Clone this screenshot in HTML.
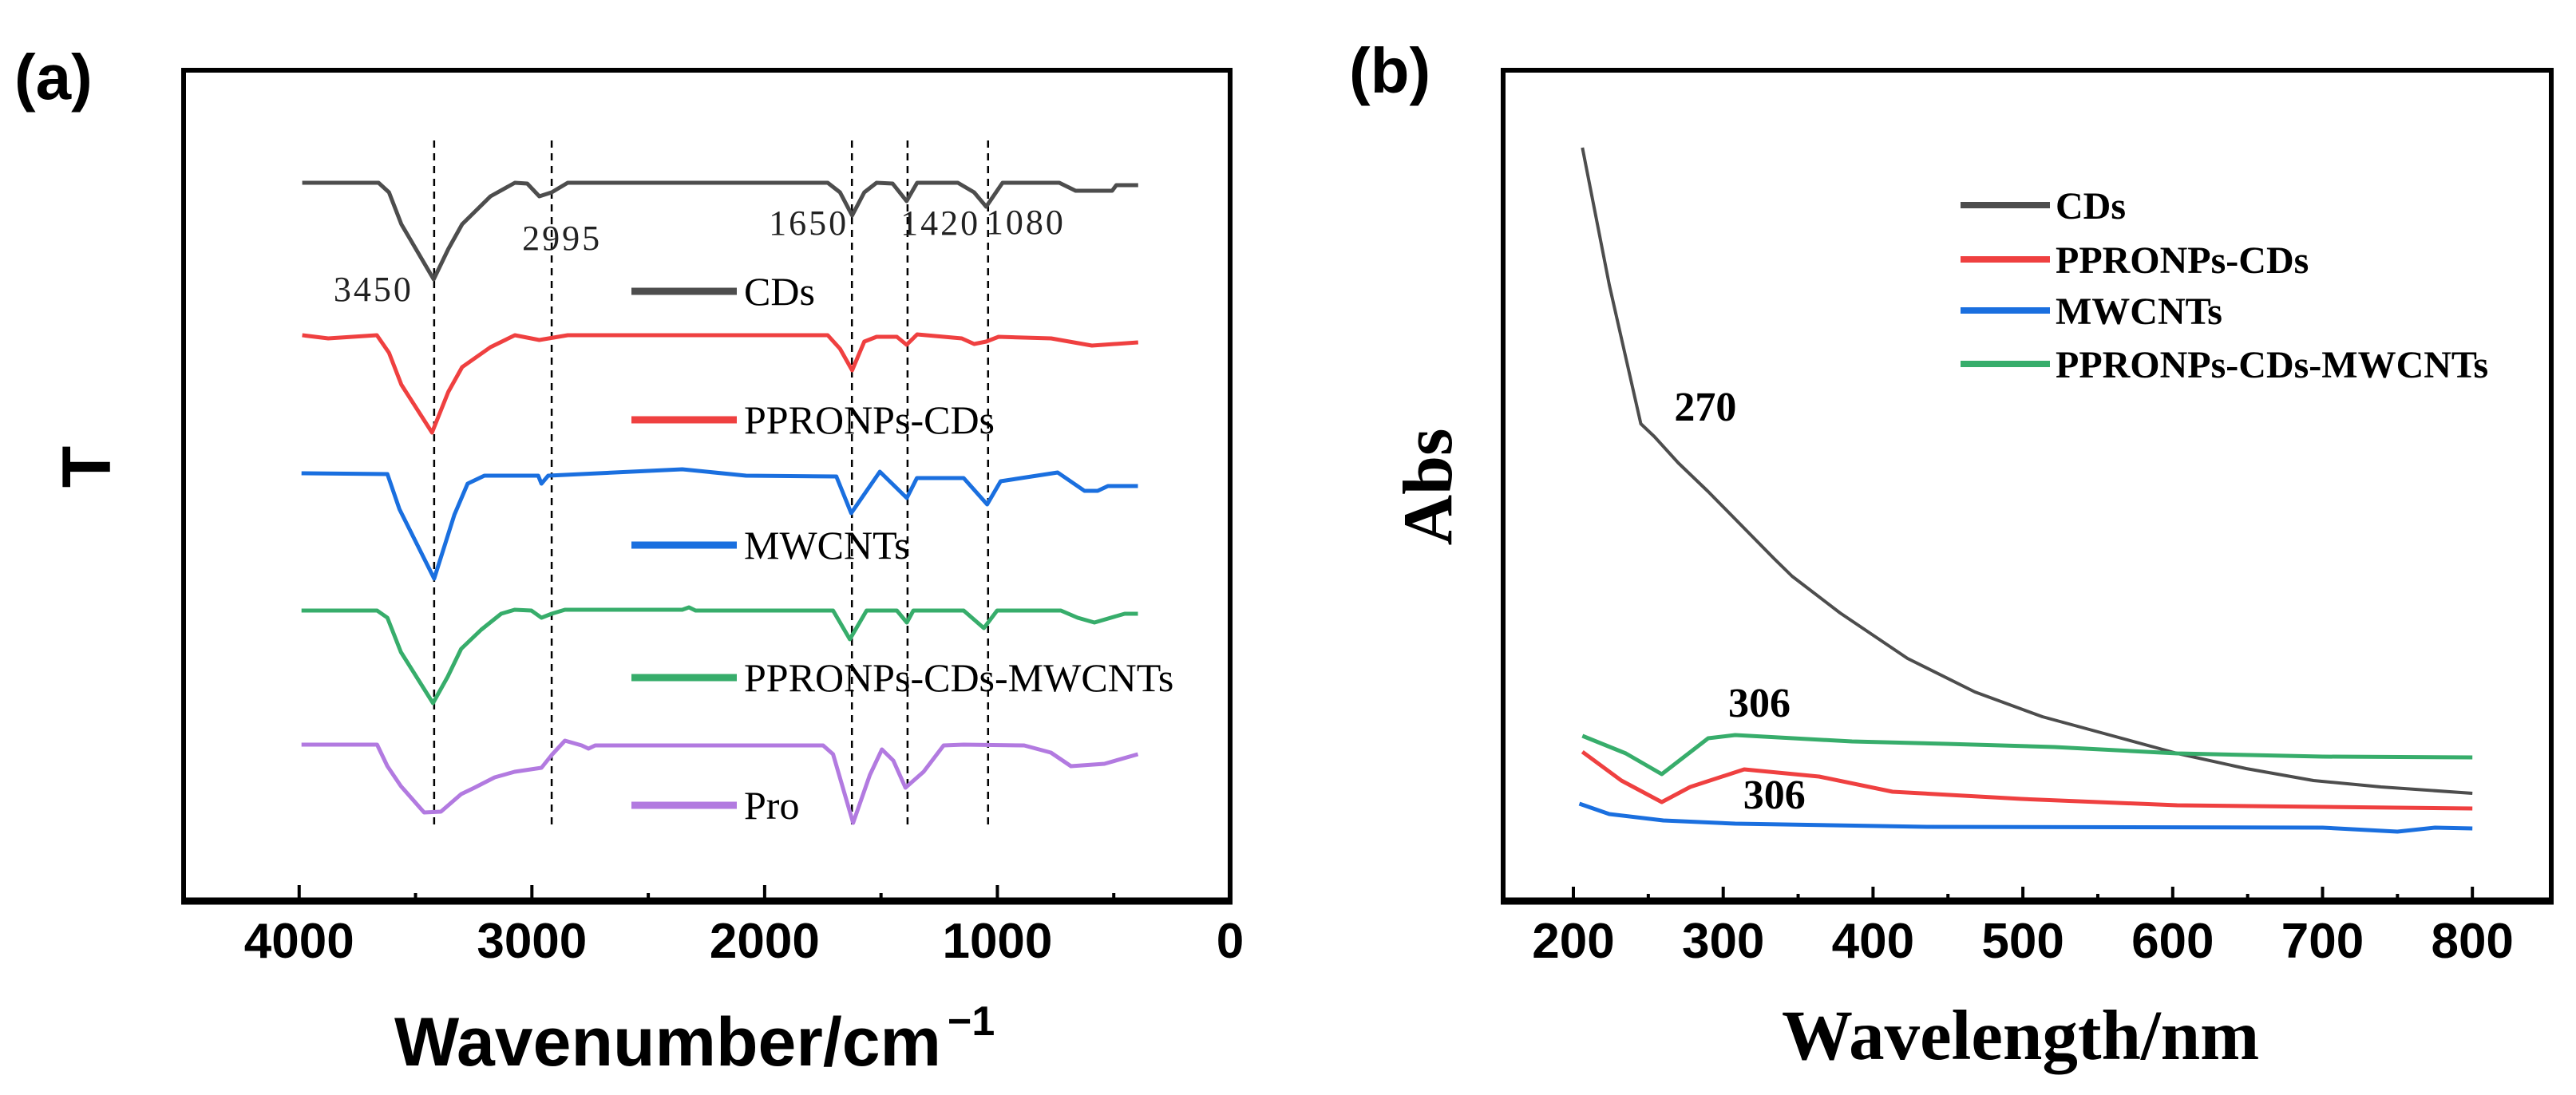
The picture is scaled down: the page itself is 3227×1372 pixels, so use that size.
<!DOCTYPE html>
<html><head><meta charset="utf-8"><style>
html,body{margin:0;padding:0;background:#fff;}
svg{display:block;}
</style></head><body>
<svg id="fig" width="3227" height="1372" viewBox="0 0 3227 1372" xmlns="http://www.w3.org/2000/svg">
<rect width="3227" height="1372" fill="#fff"/>
<g id="pa"></g>
<g id="pb"></g>
</svg>
<script>
// ---------- Panel (a) FTIR data (wavenumber cm-1, T a.u.) ----------
const cdsWn  = [3987,3659,3614,3561,3422,3359,3300,3178,3073,3020,2968,2915,2846,1729,1676,1624,1572,1519,1450,1390,1345,1170,1100,1048,978,734,664,507,489,395];
const cdsT   = [900,900,888,848,779,817,848,883,900,899,883,888,900,900,888,859,888,900,899,877,900,900,888,870,900,900,890,890,897,897];
const redWn  = [3987,3875,3666,3614,3561,3429,3359,3300,3178,3073,2968,2846,1729,1676,1624,1572,1519,1432,1390,1345,1153,1100,1048,995,769,594,395];
const redT   = [709,705,709,687,647,587,638,669,694,709,703,709,709,692,665,701,707,707,697,710,705,698,701,707,705,696,700];
const bluWn  = [3990,3621,3569,3420,3333,3276,3204,2973,2959,2930,2354,2080,1692,1628,1505,1389,1346,1145,1044,986,741,626,569,525,396];
const bluT   = [536,535,491,404,484,523,533,533,523,533,541,533,532,486,538,505,530,530,497,526,537,514,514,520,520];
const grnWn  = [3990,3665,3621,3563,3425,3362,3304,3218,3132,3074,3002,2959,2915,2858,2354,2325,2297,1706,1634,1562,1432,1389,1361,1145,1058,1001,727,655,583,453,396];
const grnT   = [364,364,355,312,248,281,316,340,360,365,364,355,360,365,365,368,364,364,328,364,364,349,364,364,342,364,364,355,349,360,360];
const proWn  = [3990,3665,3621,3563,3463,3391,3304,3247,3160,3074,2959,2915,2858,2786,2757,2728,1749,1706,1620,1548,1496,1447,1395,1317,1231,1145,885,770,684,540,396];
const proT   = [196,196,169,144,111,112,134,142,155,162,167,183,201,195,191,195,195,184,98,158,190,176,142,162,195,196,195,186,169,172,184];
const aSeriesNames  = ["CDs","PPRONPs-CDs","MWCNTs","PPRONPs-CDs-MWCNTs","Pro"];
const aLegendT      = [764,603,446,280,120];
const peakLineWn    = [3420,2915,1625,1386,1040];
const peakLabels    = ["3450","2995","1650","1420","1080"];
const peakLabelWn   = [3852,3042,1982,1416,1050];
const peakLabelT    = [752,816,835,835,836];
const aTicks        = [4000,3000,2000,1000,0];
const aMinor        = [3500,2500,1500,500];

// ---------- Panel (b) UV-Vis data (wavelength nm, Abs a.u.) ----------
const cdsWl  = [206,224,245,254,270,290,334,346,378,423,468,513,558,603,649,694,739,800];
const cdsA   = [944,772,598,582,549,513,429,407,361,304,262,231,208,185,166,151,143,135];
const grnWl  = [206,235,259,290,308,386,449,521,603,700,800];
const grnA   = [207,185,159,204,208,200,197,193,185,181,180];
const redWl  = [206,232,259,278,314,364,413,499,603,800];
const redA   = [187,151,124,143,165,156,137,128,120,116];
const bluWl  = [204,224,260,308,436,700,750,775,800];
const bluA   = [122,109,101,97,93,92,87,92,91];
const bTicks = [200,300,400,500,600,700,800];
const bMinor = [250,350,450,550,650,750];
const bSeriesNames = ["CDs","PPRONPs-CDs","MWCNTs","PPRONPs-CDs-MWCNTs"];
const bLegendA = [872,804,740,673];

const NS = "http://www.w3.org/2000/svg";
const colors = ["#4d4d4d","#ef4040","#1a6fdf","#37ad6b","#b27ae0"];
function mk(tag, attrs, parent){const e=document.createElementNS(NS,tag);for(const k in attrs)e.setAttribute(k,attrs[k]);parent.appendChild(e);return e;}

const BOTTOM=1129, TOP=88;
function xA(wn){return 1541 - wn*0.29156;}
function yA(t){return BOTTOM - t;}
function xB(wl){return 1971 + (wl-200)*1.877;}
function yB(a){return BOTTOM - a;}
function pathOf(xs,ys,fx,fy){return xs.map((v,i)=>(i?"L":"M")+fx(v).toFixed(1)+","+fy(ys[i]).toFixed(1)).join(" ");}

// ----- Panel A -----
const pa=document.getElementById("pa");
const frameA=mk("rect",{x:230,y:TOP,width:1311,height:BOTTOM-TOP,fill:"none",stroke:"#000","stroke-width":6},pa);


const botA=mk("line",{x1:227,y1:BOTTOM,x2:1544,y2:BOTTOM,stroke:"#000","stroke-width":9},pa);


aTicks.forEach(v=>{
  const t=mk("line",{x1:xA(v),y1:BOTTOM,x2:xA(v),y2:BOTTOM-20,stroke:"#000","stroke-width":4},pa);
  
  
  const l=mk("text",{x:xA(v),y:1200,"text-anchor":"middle","font-family":"Liberation Sans, sans-serif","font-weight":"bold","font-size":62},pa);
  l.textContent=v;
  
  
});
aMinor.forEach(v=>{
  const t=mk("line",{x1:xA(v),y1:BOTTOM,x2:xA(v),y2:BOTTOM-10,stroke:"#000","stroke-width":4},pa);
  
  
});
peakLineWn.forEach(v=>{
  const d=mk("line",{x1:xA(v),y1:176,x2:xA(v),y2:1038,stroke:"#000","stroke-width":2.5,"stroke-dasharray":"9,7"},pa);
  
  
});
peakLabels.forEach((s,i)=>{
  const t=mk("text",{x:xA(peakLabelWn[i]),y:yA(peakLabelT[i]),"font-family":"Liberation Serif, serif","font-size":44,"letter-spacing":3,fill:"#222"},pa);
  t.textContent=s;
  
  
});
const aX=[cdsWn,redWn,bluWn,grnWn,proWn], aY=[cdsT,redT,bluT,grnT,proT];
aX.forEach((xs,i)=>{
  const p=mk("path",{d:pathOf(xs,aY[i],xA,yA),fill:"none",stroke:colors[i],"stroke-width":5,"stroke-linejoin":"round"},pa);
  
  
  const ly=yA(aLegendT[i]);
  const ls=mk("line",{x1:791,y1:ly,x2:923,y2:ly,stroke:colors[i],"stroke-width":9},pa);
  
  
  const lt=mk("text",{x:932,y:ly+17,"font-family":"Liberation Serif, serif","font-size":50},pa);
  lt.textContent=aSeriesNames[i];
  
  
});
const labA=mk("text",{x:18,y:124,"font-family":"Liberation Sans, sans-serif","font-weight":"bold","font-size":80},pa);
labA.textContent="(a)";


const yTA=mk("text",{x:0,y:0,transform:"translate(138,585) rotate(-90)","text-anchor":"middle","font-family":"Liberation Sans, sans-serif","font-weight":"bold","font-size":86},pa);
yTA.textContent="T";


const xTA=mk("text",{x:494,y:1335,"font-family":"Liberation Sans, sans-serif","font-weight":"bold","font-size":86},pa);
xTA.textContent="Wavenumber/cm";


const sup=mk("tspan",{dy:-38,"font-size":52,dx:8},xTA);
sup.textContent="\u22121";

// ----- Panel B -----
const pb=document.getElementById("pb");
const frameB=mk("rect",{x:1883,y:TOP,width:1313,height:BOTTOM-TOP,fill:"none",stroke:"#000","stroke-width":6},pb);


const botB=mk("line",{x1:1880,y1:BOTTOM,x2:3199,y2:BOTTOM,stroke:"#000","stroke-width":9},pb);


bTicks.forEach(v=>{
  const t=mk("line",{x1:xB(v),y1:BOTTOM,x2:xB(v),y2:BOTTOM-18,stroke:"#000","stroke-width":4},pb);
  
  
  const l=mk("text",{x:xB(v),y:1200,"text-anchor":"middle","font-family":"Liberation Sans, sans-serif","font-weight":"bold","font-size":62},pb);
  l.textContent=v;
  
  
});
bMinor.forEach(v=>{
  const t=mk("line",{x1:xB(v),y1:BOTTOM,x2:xB(v),y2:BOTTOM-9,stroke:"#000","stroke-width":4},pb);
  
  
});
const bX=[cdsWl,redWl,bluWl,grnWl], bY=[cdsA,redA,bluA,grnA];
bX.forEach((xs,i)=>{
  const p=mk("path",{d:pathOf(xs,bY[i],xB,yB),fill:"none",stroke:colors[i],"stroke-width":i===0?4:5,"stroke-linejoin":"round"},pb);
  
  
  const ly=yB(bLegendA[i]);
  const ls=mk("line",{x1:2456,y1:ly,x2:2568,y2:ly,stroke:colors[i],"stroke-width":8},pb);
  
  
  const lt=mk("text",{x:2575,y:ly+17,"font-family":"Liberation Serif, serif","font-weight":"bold","font-size":48},pb);
  lt.textContent=bSeriesNames[i];
  
  
});
const bAnnText = ["270","306","306"];
const bAnnWl   = [270,306,316];
const bAnnA    = [602,231,116];
bAnnText.forEach((s,i)=>{
  const t=mk("text",{x:xB(bAnnWl[i])-5,y:yB(bAnnA[i]),"font-family":"Liberation Serif, serif","font-weight":"bold","font-size":52},pb);
  t.textContent=s;
  
  
});
const labB=mk("text",{x:1690,y:116,"font-family":"Liberation Sans, sans-serif","font-weight":"bold","font-size":80},pb);
labB.textContent="(b)";


const yTB=mk("text",{x:0,y:0,transform:"translate(1818,610) rotate(-90)","text-anchor":"middle","font-family":"Liberation Serif, serif","font-weight":"bold","font-size":88},pb);
yTB.textContent="Abs";


const xTB=mk("text",{x:2232,y:1327,"font-family":"Liberation Serif, serif","font-weight":"bold","font-size":89},pb);
xTB.textContent="Wavelength/nm";


</script>
</body></html>
